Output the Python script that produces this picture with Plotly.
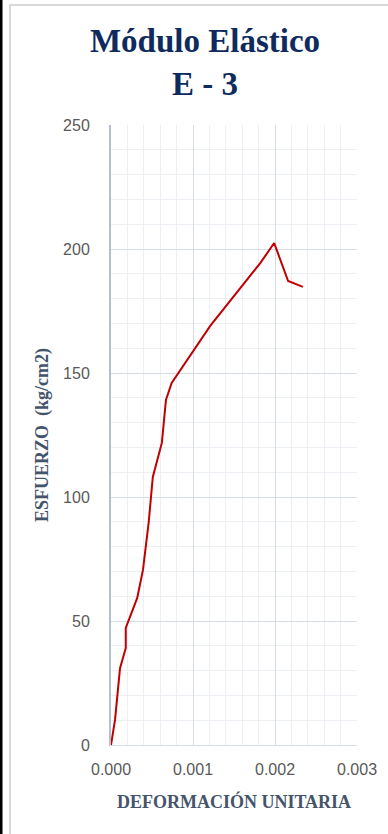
import plotly.graph_objects as go

strain = [0, 0.000049, 0.00011, 0.00018, 0.00018, 0.00032, 0.00039, 0.00046,
          0.00051, 0.00062, 0.00067, 0.00074, 0.00121, 0.00182, 0.00199,
          0.00216, 0.00234]
stress = [0, 10.1, 31.0, 39.1, 47.2, 59.3, 70.6, 89.9, 108.1, 121.8, 139.1,
          146.0, 169.0, 194.3, 202.4, 187.1, 184.7]
x_ticks = [0, 0.001, 0.002, 0.003]
x_ticklabels = ["0.000", "0.001", "0.002", "0.003"]
y_ticks = [0, 50, 100, 150, 200, 250]

W, H = 388, 834
L, R, T, B = 111, 31, 125, 89
pw, ph = W - L - R, H - T - B

def px(x):
    return (x - L) / pw

def py(y):
    return (H - B - y) / ph

fig = go.Figure()
fig.add_trace(go.Scatter(x=strain, y=stress, mode="lines",
                         line=dict(color="#C00000", width=2), showlegend=False))

fig.update_layout(
    width=W, height=H,
    margin=dict(l=L, r=R, t=T, b=B),
    paper_bgcolor="white", plot_bgcolor="white",
    title=dict(text="<b>Módulo Elástico<br>E - 3</b>",
               font=dict(family="Liberation Serif", size=33, color="#0F2B5E"),
               x=205 / W, xanchor="center", xref="container",
               y=1 - 52 / H, yanchor="top", yref="container"),
    xaxis=dict(range=[0, 0.003], tickvals=x_ticks, ticktext=x_ticklabels,
               showgrid=True, gridcolor="#D6DCE5", gridwidth=1,
               minor=dict(dtick=0.0002, showgrid=True, gridcolor="#ECEFF4", gridwidth=1),
               showline=True, linecolor="#D6DCE5", linewidth=1, zeroline=False,
               ticks="", ticklabelstandoff=10,
               tickfont=dict(family="Liberation Sans", size=16, color="#595959"),
               title=dict(text="<b>DEFORMACIÓN UNITARIA</b>", standoff=18,
                          font=dict(family="Liberation Serif", size=18, color="#44546A"))),
    yaxis=dict(range=[0, 250], tickvals=y_ticks,
               showgrid=True, gridcolor="#D6DCE5", gridwidth=1,
               minor=dict(dtick=10, showgrid=True, gridcolor="#ECEFF4", gridwidth=1),
               showline=True, linecolor="#B4BFCF", linewidth=2, zeroline=False,
               ticks="", ticklabelstandoff=16,
               tickfont=dict(family="Liberation Sans", size=16, color="#595959"),
               title=dict(text="<b>ESFUERZO  (kg/cm2)</b>", standoff=10,
                          font=dict(family="Liberation Serif", size=18, color="#44546A"))),
    shapes=[
        dict(type="rect", xref="paper", yref="paper",
             x0=px(10), x1=px(W + 10), y0=py(H + 10), y1=py(5),
             line=dict(color="#D9D9D9", width=2), layer="below"),
        dict(type="line", xref="paper", yref="paper",
             x0=px(1), x1=px(1), y0=py(H + 10), y1=py(-10),
             line=dict(color="#000000", width=3)),
    ],
)

fig.write_html("out.html", config={"displayModeBar": False},
               post_script="document.body.style.margin='0';document.body.style.overflow='hidden';")
